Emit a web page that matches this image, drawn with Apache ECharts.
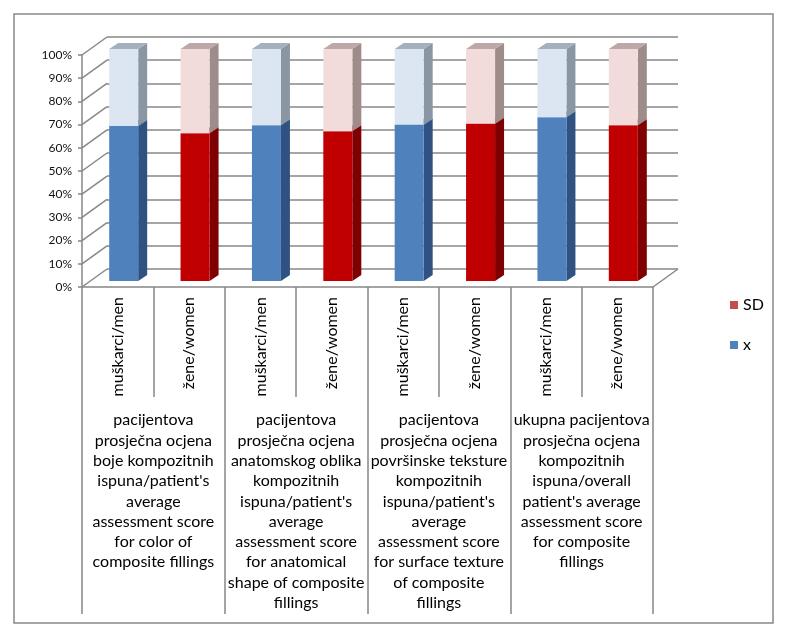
<!DOCTYPE html>
<html><head><meta charset="utf-8">
<script src="https://cdn.jsdelivr.net/npm/echarts@6/dist/echarts.min.js"></script>
<style>html,body{margin:0;padding:0;background:#fff}#c{width:787px;height:638px}</style>
</head><body><div id="c"></div>
<script>
const categories = ['muškarci/men','žene/women','muškarci/men','žene/women','muškarci/men','žene/women','muškarci/men','žene/women'];
const genders = ['m','w','m','w','m','w','m','w'];
const groupLabels = [
  "pacijentova\nprosječna ocjena\nboje kompozitnih\nispuna/patient's\naverage\nassessment score\nfor color of\ncomposite fillings",
  "pacijentova\nprosječna ocjena\nanatomskog oblika\nkompozitnih\nispuna/patient's\naverage\nassessment score\nfor anatomical\nshape of composite\nfillings",
  "pacijentova\nprosječna ocjena\npovršinske teksture\nkompozitnih\nispuna/patient's\naverage\nassessment score\nfor surface texture\nof composite\nfillings",
  "ukupna pacijentova\nprosječna ocjena\nkompozitnih\nispuna/overall\npatient's average\nassessment score\nfor composite\nfillings"
];
const xValues  = [66.8, 63.7, 67.1, 64.6, 67.4, 67.8, 70.6, 67.1];
const sdValues = [33.2, 36.3, 32.9, 35.4, 32.6, 32.2, 29.4, 32.9];
const yTicks = [0, 10, 20, 30, 40, 50, 60, 70, 80, 90, 100];

const palette = {
  m: { x: {front:'#4F81BD', side:'#2F5283', top:'#3E6699'}, sd: {front:'#DCE6F2', side:'#8A96A4', top:'#A5B0BE'} },
  w: { x: {front:'#C00000', side:'#7F0000', top:'#A00000'}, sd: {front:'#F2DCDB', side:'#9E8C8B', top:'#BDA8A7'} }
};
const GRID_COLOR = '#878787';
const DEPTH_X = 25, DEPTH_Y = -18;

function barItem(kind) {
  return function (params, api) {
    const i = api.value(0), lo = api.value(1), hi = api.value(2);
    const c = palette[genders[i]][kind];
    const pLo = api.coord([i, lo]), pHi = api.coord([i, hi]);
    const bw = 29, dx = 9, dy = -6, ox = 6, oy = -6;
    const x0 = pLo[0] + ox - bw / 2, x1 = x0 + bw;
    const yb = pLo[1] + oy, yt = pHi[1] + oy;
    return { type: 'group', children: [
      { type: 'polygon', shape: { points: [[x1, yb], [x1 + dx, yb + dy], [x1 + dx, yt + dy], [x1, yt]] }, style: { fill: c.side } },
      { type: 'polygon', shape: { points: [[x0, yt], [x1, yt], [x1 + dx, yt + dy], [x0 + dx, yt + dy]] }, style: { fill: c.top } },
      { type: 'rect', shape: { x: x0, y: yt, width: bw, height: yb - yt }, style: { fill: c.front } }
    ]};
  };
}

function diagItem(params, api) {
  const v = api.value(0);
  const p = api.coord([0, v]);
  const half = api.size([1, 0])[0] / 2;
  const xl = p[0] - half;
  const children = [
    { type: 'line', shape: { x1: xl, y1: p[1], x2: xl + DEPTH_X, y2: p[1] + DEPTH_Y }, style: { stroke: GRID_COLOR, lineWidth: 1.5 } }
  ];
  if (v === 0) {
    const xr = api.coord([categories.length - 1, 0])[0] + half;
    children.push({ type: 'line', shape: { x1: xr, y1: p[1], x2: xr + DEPTH_X, y2: p[1] + DEPTH_Y }, style: { stroke: GRID_COLOR, lineWidth: 1.5 } });
  }
  return { type: 'group', children };
}

const chart = echarts.init(document.getElementById('c'), null, { renderer: 'canvas' });
chart.setOption({
  animation: false,
  backgroundColor: '#fff',
  graphic: [{ type: 'rect', shape: { x: 14, y: 14, width: 759, height: 609 }, style: { fill: null, stroke: '#888', lineWidth: 1.5 }, silent: true }],
  legend: {
    orient: 'vertical', left: 725, top: 290, icon: 'rect', itemWidth: 8, itemHeight: 8, itemGap: 20,
    data: ['SD', 'x'],
    textStyle: { fontFamily: 'Lato', fontSize: 16, color: '#000', lineHeight: 20 }
  },
  grid: [
    { left: 82, right: 134, top: 55, bottom: 351, containLabel: false, outerBoundsMode: 'none' },
    { left: 107, right: 109, top: 37, bottom: 369, containLabel: false, outerBoundsMode: 'none' }
  ],
  xAxis: [
    { type: 'category', gridIndex: 0, data: categories, position: 'bottom',
      axisLine: { show: true, lineStyle: { color: GRID_COLOR, width: 1.5 } },
      axisTick: { show: true, length: 110, interval: 0, lineStyle: { color: GRID_COLOR, width: 1.5 } },
      axisLabel: { interval: 0, rotate: 90, margin: 10, fontFamily: 'Lato', fontSize: 16, color: '#000' } },
    { type: 'category', gridIndex: 0, data: groupLabels, position: 'bottom',
      axisLine: { show: false },
      axisTick: { show: true, length: 327, interval: 0, lineStyle: { color: GRID_COLOR, width: 1.5 } },
      axisLabel: { interval: 0, margin: 123, fontFamily: 'Lato', fontSize: 16, lineHeight: 20.3, color: '#000', align: 'center' } },
    { type: 'category', gridIndex: 1, data: categories, show: false }
  ],
  yAxis: [
    { type: 'value', gridIndex: 0, min: 0, max: 100, interval: 10,
      axisLine: { show: true, lineStyle: { color: GRID_COLOR, width: 1.5 } },
      axisTick: { show: true, length: 4, lineStyle: { color: GRID_COLOR, width: 1.5 } },
      splitLine: { show: false },
      axisLabel: { formatter: '{value}%', margin: 10, fontFamily: 'Lato', fontSize: 12, color: '#111' } },
    { type: 'value', gridIndex: 1, min: 0, max: 100, interval: 10,
      axisLine: { show: false }, axisTick: { show: false }, axisLabel: { show: false },
      splitLine: { show: true, lineStyle: { color: GRID_COLOR, width: 1.5 } } }
  ],
  series: [
    { type: 'custom', name: 'grid3d', xAxisIndex: 0, yAxisIndex: 0, silent: true,
      data: yTicks.map(v => [v]), encode: { y: 0 }, renderItem: diagItem, z: 1 },
    { type: 'custom', name: 'x', xAxisIndex: 0, yAxisIndex: 0, itemStyle: { color: '#4F81BD' },
      data: xValues.map((v, i) => [i, 0, v]), encode: { x: 0, y: [1, 2] }, renderItem: barItem('x'), z: 3 },
    { type: 'custom', name: 'SD', xAxisIndex: 0, yAxisIndex: 0, itemStyle: { color: '#C0504D' },
      data: sdValues.map((v, i) => [i, xValues[i], xValues[i] + v]), encode: { x: 0, y: [1, 2] }, renderItem: barItem('sd'), z: 4 }
  ]
});
</script>
</body></html>
